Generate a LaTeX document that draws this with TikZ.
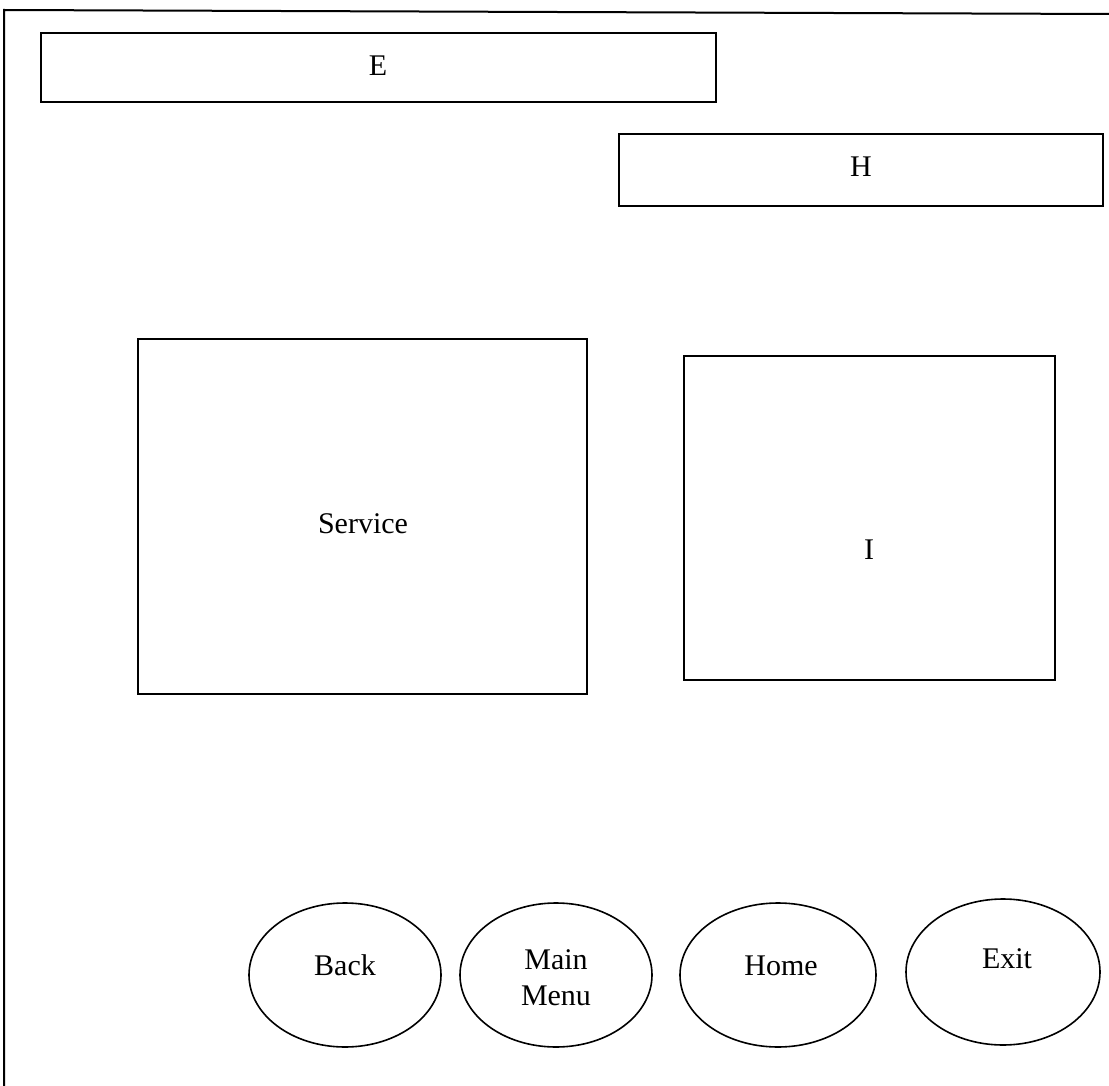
\documentclass[tikz,border=0pt]{standalone}
\usepackage{fontspec}
\setmainfont{Liberation Serif}
\usetikzlibrary{shapes.geometric}
\begin{document}
\begin{tikzpicture}[x=1pt,y=-1pt,
  box/.style={draw,line width=1.8pt},
  btn/.style={draw,line width=1.6pt},
  lbl/.style={font=\fontsize{30}{36}\selectfont,inner sep=0pt,align=center}]
\useasboundingbox (0,0) rectangle (1109,1086);
\draw[line width=2pt] (4,1086) -- (4,10) -- (1109,14);
% boxes
\draw[box] (41,33) rectangle (716,102);
\node[lbl] (e) at (378,66) {E};
\draw[box] (619,134) rectangle (1103,206);
\node[lbl] (h) at (861,167) {H};
\draw[box] (138,339) rectangle (587,694);
\node[lbl] (s) at (363,524) {Service};
\draw[box] (684,356) rectangle (1055,680);
\node[lbl] (i) at (869,550) {I};
% buttons
\draw[btn] (345,975) ellipse [x radius=96, y radius=72];
\node[lbl] (back) at (345,965) {Back};
\draw[btn] (556,975) ellipse [x radius=96, y radius=72];
\node[lbl] (mm) at (556,978) {Main\\Menu};
\draw[btn] (778,975) ellipse [x radius=98, y radius=72];
\node[lbl] (home) at (781,966) {Home};
\draw[btn] (1003,972) ellipse [x radius=97, y radius=73];
\node[lbl] (exit) at (1007,959) {Exit};
\end{tikzpicture}
\end{document}
